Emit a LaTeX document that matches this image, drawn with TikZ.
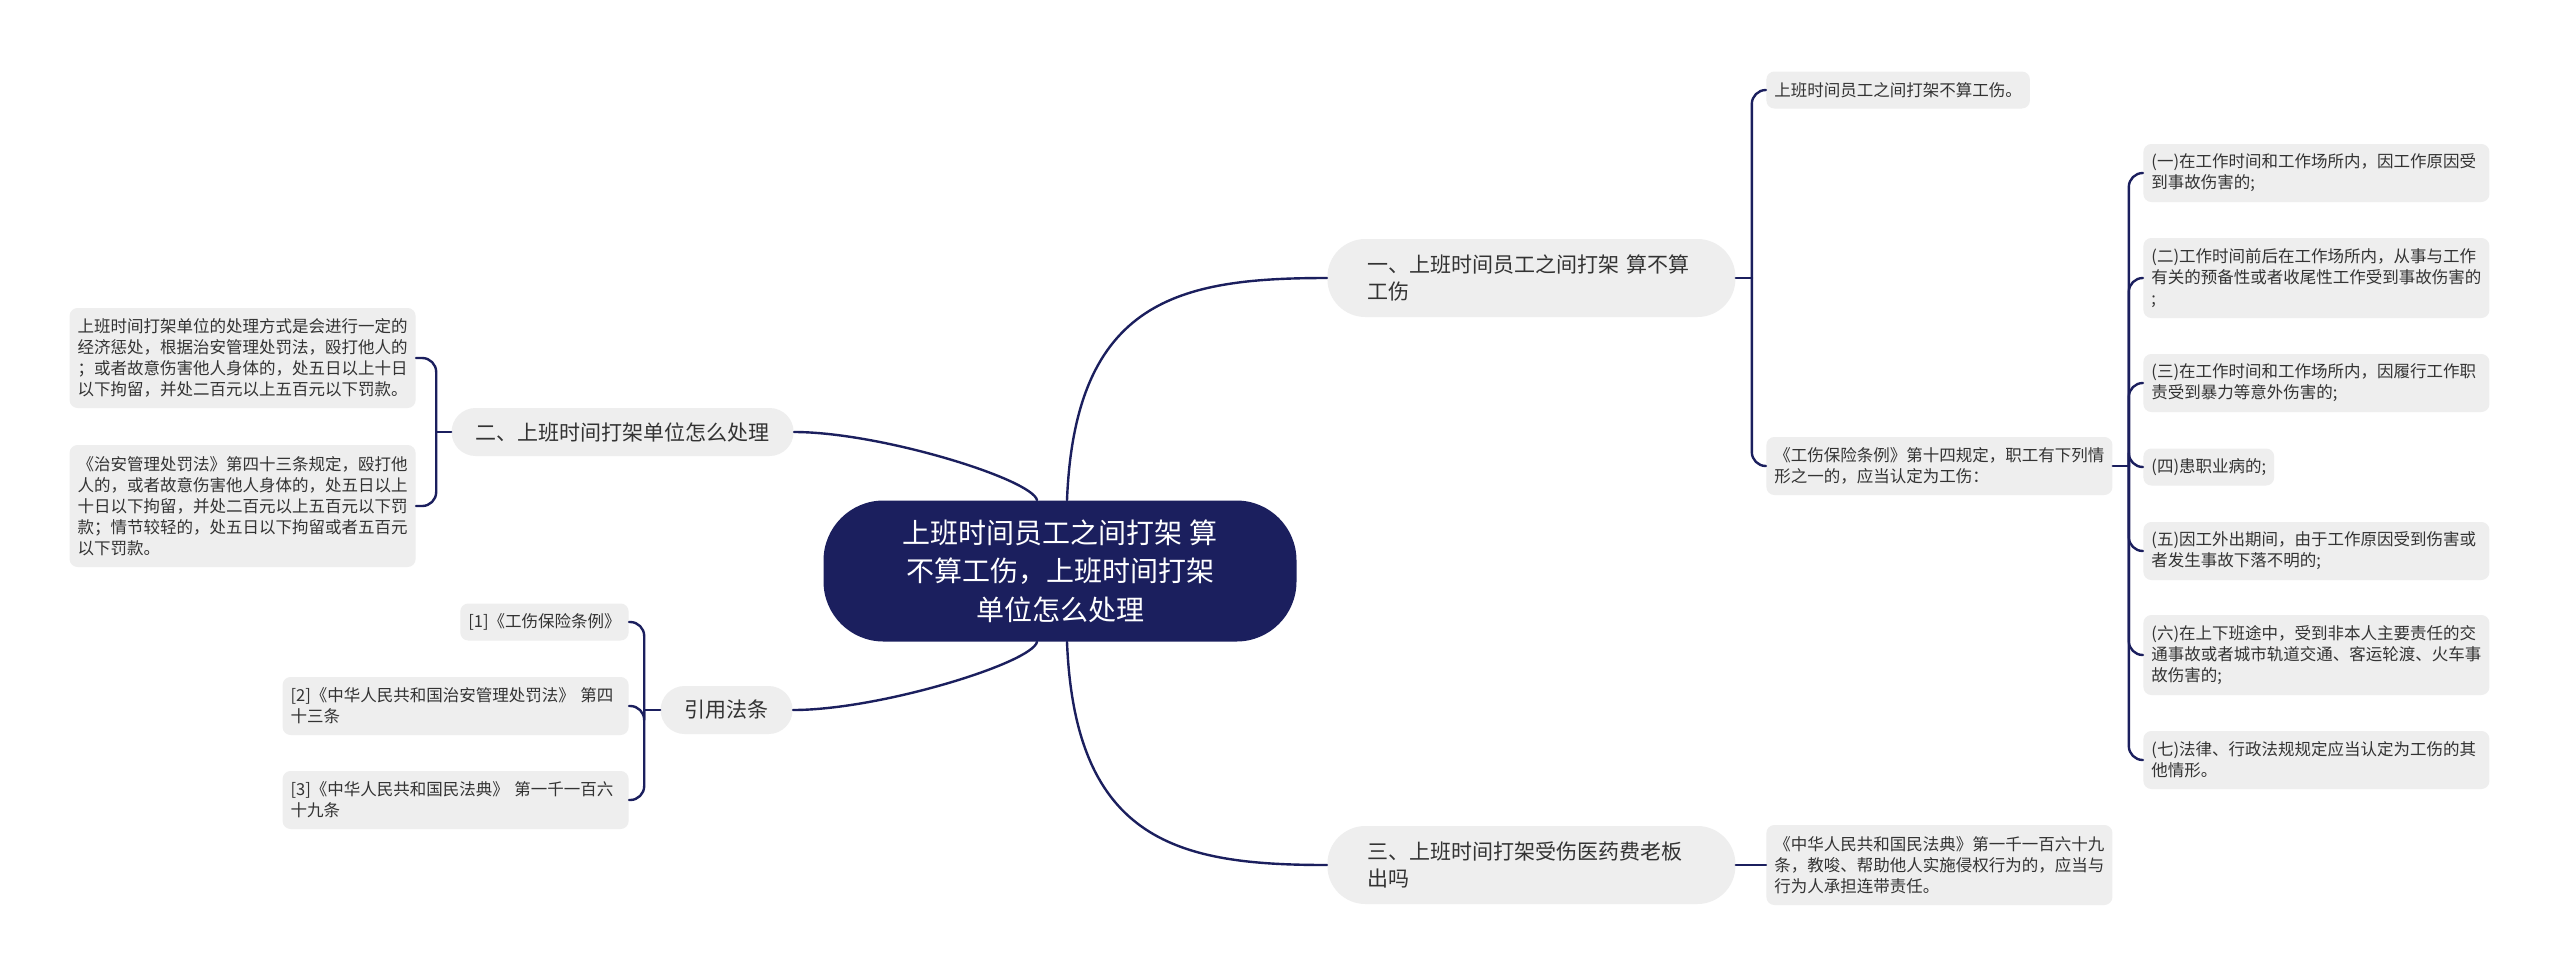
\documentclass[tikz,border=0pt]{standalone}
\usepackage{fontspec}
\setmainfont{Noto Sans CJK SC}
\usepackage{tikz}
\usetikzlibrary{positioning}
\definecolor{rootblue}{HTML}{1B1F5E}
\definecolor{linkblue}{HTML}{1B1F5E}
\definecolor{boxgray}{HTML}{EEEEEE}
\definecolor{textgray}{HTML}{333333}

\begin{document}
\begin{tikzpicture}[x=0.5pt, y=-0.5pt, line cap=round, line join=round,
    link/.style={draw=linkblue, line width=1.2pt},
    bracket/.style={link, rounded corners=7pt},
    rootbox/.style={fill=rootblue, text=white, rounded corners=30pt, align=center,
      minimum width=236.5pt, minimum height=70.5pt, inner sep=0pt,
      font={\fontsize{14pt}{19.25pt}\selectfont}},
    branch/.style={fill=boxgray, text=textgray, rounded corners=12pt, align=left,
      inner xsep=12pt, inner ysep=4pt, minimum height=24pt,
      font={\fontsize{10.5pt}{13.5pt}\selectfont}},
    branchw/.style={branch, rounded corners=19pt, inner xsep=20pt, text width=164pt,
      minimum height=39pt},
    leaf/.style={fill=boxgray, text=textgray, rounded corners=4pt, align=left,
      inner xsep=4pt, inner ysep=4pt, minimum height=18.5pt,
      font={\fontsize{8.25pt}{10.5pt}\selectfont}},
    leafw/.style={leaf, text width=165pt}]
  \fill[white] (0,0) rectangle (2560,976);
  \useasboundingbox (0,0) rectangle (2560,976);
  %--- Root
    \node[rootbox] (root) at (1060, 571) {上班时间员工之间打架 算\\不算工伤，上班时间打架\\单位怎么处理};
  %--- Branches
    \node[branchw, anchor=west] (work) at (1327, 278) {一、上班时间员工之间打架 算不算\\工伤};
    \node[branch, anchor=east] (unit) at (794, 432) {二、上班时间打架单位怎么处理};
    \node[branch, anchor=east] (laws) at (793, 710) {引用法条};
    \node[branchw, anchor=west] (cost) at (1327, 865) {三、上班时间打架受伤医药费老板\\出吗};
  %--- Root links
    \draw[link] ([xshift=3.5pt]root.north) .. controls +(8,-201) and +(-147,0) .. (work.west);
    \draw[link] ([xshift=-11.5pt]root.north) .. controls +(-5,-21) and +(86,0) .. (unit.east);
    \draw[link] ([xshift=-11.5pt]root.south) .. controls +(-5,21) and +(87,0) .. (laws.east);
    \draw[link] ([xshift=3.5pt]root.south) .. controls +(8,201) and +(-147,0) .. (cost.west);
  %--- Work injury
    \node[leaf, anchor=west] (notinj) at (1766, 90) {上班时间员工之间打架不算工伤。};
    \node[leafw, anchor=west, minimum height=29pt] (rule) at (1766, 466) {《工伤保险条例》第十四规定，职工有下列情\\形之一的，应当认定为工伤：};
    \draw[link] (work.east) -- ++(16,0) coordinate (workj);
    \foreach \n in {notinj, rule}
      \draw[bracket] (workj) |- (\n.west);
  %--- Cases
    \node[leafw, anchor=west, minimum height=29pt] (case1) at (2143, 173) {(一)在工作时间和工作场所内，因工作原因受\\到事故伤害的;};
    \node[leafw, anchor=west, minimum height=40pt] (case2) at (2143, 278) {(二)工作时间前后在工作场所内，从事与工作\\有关的预备性或者收尾性工作受到事故伤害的\\;};
    \node[leafw, anchor=west, minimum height=29pt] (case3) at (2143, 383) {(三)在工作时间和工作场所内，因履行工作职\\责受到暴力等意外伤害的;};
    \node[leaf, anchor=west] (case4) at (2143, 467) {(四)患职业病的;};
    \node[leafw, anchor=west, minimum height=29pt] (case5) at (2143, 551) {(五)因工外出期间，由于工作原因受到伤害或\\者发生事故下落不明的;};
    \node[leafw, anchor=west, minimum height=40pt] (case6) at (2143, 655) {(六)在上下班途中，受到非本人主要责任的交\\通事故或者城市轨道交通、客运轮渡、火车事\\故伤害的;};
    \node[leafw, anchor=west, minimum height=29pt] (case7) at (2143, 760) {(七)法律、行政法规规定应当认定为工伤的其\\他情形。};
    \draw[link] (rule.east) -- ++(16,0) coordinate (rulej);
    \foreach \n in {case1, case2, case3, case4, case5, case6, case7}
      \draw[bracket] (rulej) |- (\n.west);
  %--- Unit handling
    \node[leafw, anchor=east, minimum height=50pt] (fine) at (416, 358) {上班时间打架单位的处理方式是会进行一定的\\经济惩处，根据治安管理处罚法，殴打他人的\\；或者故意伤害他人身体的，处五日以上十日\\以下拘留，并处二百元以上五百元以下罚款。};
    \node[leafw, anchor=east, minimum height=61pt] (art43) at (416, 506) {《治安管理处罚法》第四十三条规定，殴打他\\人的，或者故意伤害他人身体的，处五日以上\\十日以下拘留，并处二百元以上五百元以下罚\\款；情节较轻的，处五日以下拘留或者五百元\\以下罚款。};
    \draw[link] (unit.west) -- ++(-15,0) coordinate (unitj);
    \foreach \n in {fine, art43}
      \draw[bracket] (unitj) |- (\n.east);
  %--- Cited laws
    \node[leaf, anchor=east] (ref1) at (629, 622) {[1]《工伤保险条例》};
    \node[leafw, anchor=east, minimum height=29pt] (ref2) at (629, 706) {[2]《中华人民共和国治安管理处罚法》 第四\\十三条};
    \node[leafw, anchor=east, minimum height=29pt] (ref3) at (629, 800) {[3]《中华人民共和国民法典》 第一千一百六\\十九条};
    \draw[link] (laws.west) -- ++(-16,0) coordinate (lawsj);
    \foreach \n in {ref1, ref2, ref3}
      \draw[bracket] (lawsj) |- (\n.east);
  %--- Medical cost
    \node[leafw, anchor=west, minimum height=40pt] (civil) at (1766, 865) {《中华人民共和国民法典》第一千一百六十九\\条，教唆、帮助他人实施侵权行为的，应当与\\行为人承担连带责任。};
    \draw[link] (cost.east) -- (civil.west);
\end{tikzpicture}
\end{document}
